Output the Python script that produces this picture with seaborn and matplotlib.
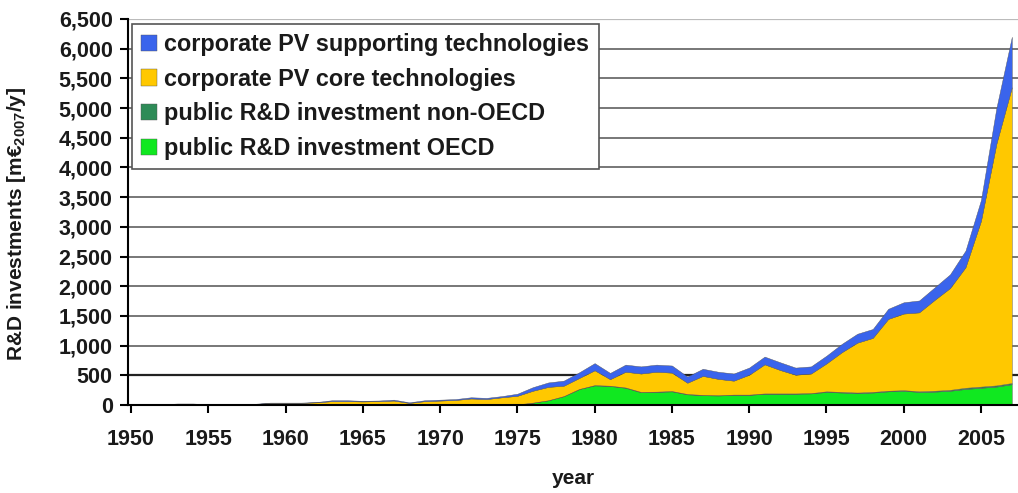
import numpy as np
import seaborn as sns
import matplotlib.pyplot as plt

# years on the x axis
years = list(range(1950, 2008))

# public R&D investment OECD (bottom layer)
oecd = [0, 0, 0, 0, 0, 0, 0, 0, 0, 0,
        0, 0, 0, 0, 0, 0, 0, 0, 0, 0,
        0, 0, 0, 0, 0, 10, 40, 80, 150, 270,
        330, 320, 290, 215, 220, 230, 180, 165, 160, 170,
        170, 190, 190, 190, 195, 220, 210, 200, 210, 230,
        240, 220, 225, 240, 270, 290, 310, 350]

# public R&D investment non-OECD
non_oecd = [0, 0, 0, 0, 0, 0, 0, 0, 0, 0,
            0, 0, 0, 0, 0, 0, 0, 0, 0, 0,
            0, 0, 0, 0, 0, 0, 0, 0, 0, 0,
            5, 5, 5, 5, 5, 5, 5, 5, 5, 5,
            5, 5, 5, 5, 5, 10, 10, 10, 10, 10,
            10, 10, 15, 15, 20, 20, 20, 20]

# corporate PV core technologies
core = [0, 0, 0, 0, 0, 0, 0, 0, 15, 35,
        35, 35, 45, 65, 65, 60, 65, 75, 35, 65,
        75, 85, 110, 100, 130, 145, 200, 225, 175, 185,
        250, 110, 265, 310, 335, 310, 190, 320, 275, 235,
        335, 490, 395, 315, 330, 470, 670, 840, 910, 1210,
        1290, 1330, 1530, 1715, 2030, 2790, 4070, 4980]

# corporate PV supporting technologies (top layer)
supporting = [0, 0, 10, 25, 25, 10, 5, 5, 5, 5,
              5, 5, 5, 15, 15, 10, 10, 15, 10, 15,
              15, 15, 20, 20, 20, 35, 60, 75, 85, 95,
              120, 105, 120, 120, 120, 120, 105, 120, 120, 120,
              120, 130, 130, 120, 120, 130, 140, 150, 150, 170,
              190, 200, 210, 230, 280, 350, 600, 850]

labels = ["public R&D investment OECD", "public R&D investment non-OECD",
          "corporate PV core technologies", "corporate PV supporting technologies"]
colors = ["#10e820", "#2e8b57", "#ffc800", "#3a64ec"]

y_ticks = list(range(0, 7000, 500))
x_ticks = list(range(1950, 2010, 5))

sns.set_style("white")
plt.rcParams['font.family'] = ['Liberation Sans', 'DejaVu Sans']
plt.rcParams['mathtext.fontset'] = 'custom'
plt.rcParams['mathtext.rm'] = 'Liberation Sans'
plt.rcParams['mathtext.bf'] = 'Liberation Sans:bold'

fig = plt.figure(figsize=(10.18, 4.93), dpi=100)
ax = fig.add_axes([0.1257, 0.1785, 0.8743, 0.783])

# horizontal grid, 500 line darker like the original
for v in y_ticks[1:]:
    if v == 500:
        c, lw = "#222222", 1.6
    elif v == 6500:
        c, lw = "#bbbbbb", 1.6
    else:
        c, lw = "#777777", 1.4
    ax.axhline(v, color=c, lw=lw, zorder=0)

stacks = ax.stackplot(years, oecd, non_oecd, core, supporting,
                      colors=colors, labels=labels, zorder=2,
                      edgecolor="#555555", linewidth=0.3)

ax.set_xlim(1949.8, 2007.4)
ax.set_ylim(0, 6500)
ax.set_xticks(x_ticks)
ax.set_yticks(y_ticks)
ax.set_yticklabels([f"{v:,}" for v in y_ticks])

for s in ["top", "right"]:
    ax.spines[s].set_visible(False)
for s in ["left", "bottom"]:
    ax.spines[s].set_color("black")
    ax.spines[s].set_linewidth(1.5)
    ax.spines[s].set_zorder(3)

ax.tick_params(axis="both", direction="out", length=6, width=1.5, color="black",
               labelsize=15.5, labelcolor="#1a1a1a")
ax.tick_params(axis="x", pad=11, bottom=True)
ax.tick_params(axis="y", pad=5, left=True)
for lab in ax.get_xticklabels() + ax.get_yticklabels():
    lab.set_fontweight("bold")

ax.set_xlabel("year", fontsize=15, fontweight="bold", color="#1a1a1a")
ax.xaxis.set_label_coords(0.5, -0.165)
ax.set_ylabel(r"R&D investments [m€$_{\mathbf{2007}}$/y]", fontsize=15,
              fontweight="bold", color="#1a1a1a")
ax.yaxis.set_label_coords(-0.112, 0.47)

handles, labs = ax.get_legend_handles_labels()
leg = ax.legend(handles[::-1], labs[::-1], loc="upper left",
                bbox_to_anchor=(0.004, 0.988), borderaxespad=0,
                fancybox=False, framealpha=1, edgecolor="#555555",
                prop={"size": 16.8, "weight": "bold"},
                handlelength=0.7, handleheight=0.7, handletextpad=0.3,
                labelspacing=0.5, borderpad=0.4)
leg.get_frame().set_linewidth(1.2)
leg.set_zorder(5)
for t in leg.get_texts():
    t.set_color("#1a1a1a")

fig.savefig("out.png", dpi=100)
